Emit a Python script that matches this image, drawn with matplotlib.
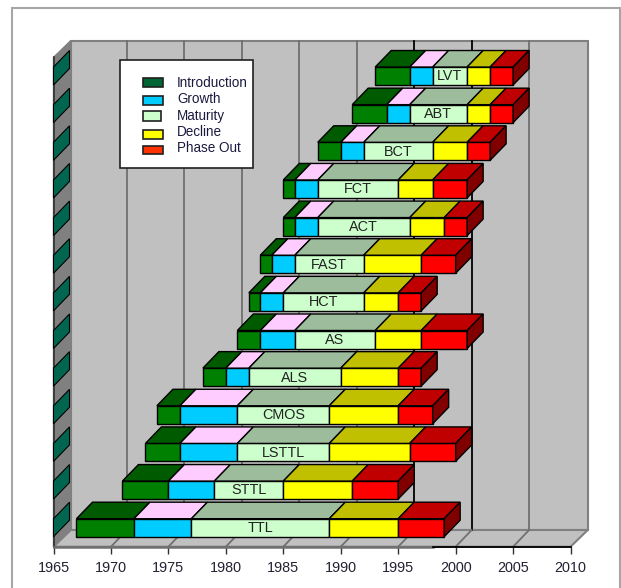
import matplotlib
matplotlib.use("Agg")
import matplotlib.pyplot as plt
from matplotlib.patches import Polygon, Rectangle
from matplotlib.transforms import Affine2D

plt.rcParams['font.family'] = ['Liberation Sans', 'DejaVu Sans']

# bottom row first
families = ["TTL", "STTL", "LSTTL", "CMOS", "ALS", "AS", "HCT", "FAST", "ACT", "FCT", "BCT", "ABT", "LVT"]
start = [1967, 1971, 1973, 1974, 1978, 1981, 1982, 1983, 1985, 1985, 1988, 1991, 1993]
intro_end = [1972, 1975, 1976, 1976, 1980, 1983, 1983, 1984, 1986, 1986, 1990, 1994, 1996]
growth_end = [1977, 1979, 1981, 1981, 1982, 1986, 1985, 1986, 1988, 1988, 1992, 1996, 1998]
maturity_end = [1989, 1985, 1989, 1989, 1990, 1993, 1992, 1992, 1996, 1995, 1998, 2001, 2001]
decline_end = [1995, 1991, 1996, 1995, 1995, 1997, 1995, 1997, 1999, 1998, 2001, 2003, 2003]
phaseout_end = [1999, 1995, 2000, 1998, 1997, 2001, 1997, 2000, 2001, 2001, 2003, 2005, 2005]

phases = ["Introduction", "Growth", "Maturity", "Decline", "Phase Out"]
front_colors = ["#008000", "#00ccff", "#ccffcc", "#ffff00", "#ff0000"]
top_colors = ["#005a00", "#ffccff", "#9cbc9c", "#c0c000", "#c00000"]
side_color = "#800000"
legend_colors = ["#006633", "#00ccff", "#ccffcc", "#ffff00", "#ff3300"]
years = [1965, 1970, 1975, 1980, 1985, 1990, 1995, 2000, 2005, 2010]

W, H = 621, 588
PX_YEAR = 11.49   # px per year
PX_ROW = 37.64    # px per row
X0, Y0 = 53.5, 536.7   # px of 1965 / bottom of the first bar
DX = 16 / PX_YEAR      # oblique depth in data units
DY = 16.5 / PX_ROW
BAR_H = 18 / PX_ROW
FLOOR = -10 / PX_ROW

fig = plt.figure(figsize=(W / 100, H / 100), dpi=100, facecolor="white")
ax = fig.add_axes([0, 0, 1, 1])
ax.set_xlim(1965 - X0 / PX_YEAR, 1965 + (W - X0) / PX_YEAR)
ax.set_ylim((Y0 - H) / PX_ROW, Y0 / PX_ROW)
ax.patch.set_visible(False)

# image pixels, y down, for the frame and legend
pix = Affine2D().scale(1, -1).translate(0, H)


def row(py):
    return (Y0 - py) / PX_ROW


def para(pts, color, z, lw=1.0, ec="black"):
    ax.add_patch(Polygon(pts, closed=True, fc=color, ec=ec, lw=lw, zorder=z, joinstyle="miter"))


# outer frame
ax.add_patch(Rectangle((12, 8), 608, 620, fc="white", ec="#a6a6a6", lw=1.5, transform=pix, zorder=0))

# walls
top = row(40.7)
wall_dx = 17.2 / PX_YEAR
wall_dy = 16.7 / PX_ROW
para([(1965 + wall_dx, FLOOR + wall_dy), (2010 + wall_dx, FLOOR + wall_dy), (2010 + wall_dx, top), (1965 + wall_dx, top)],
     "#c0c0c0", 1, lw=1.5, ec="#808080")
para([(1965, FLOOR), (2010, FLOOR), (2010 + wall_dx, FLOOR + wall_dy), (1965 + wall_dx, FLOOR + wall_dy)],
     "#c0c0c0", 1, lw=1.5, ec="#808080")
para([(1965, FLOOR), (1965 + wall_dx, FLOOR + wall_dy), (1965 + wall_dx, top), (1965, top - wall_dy)],
     "#808080", 1, lw=1.0, ec="#808080")
ax.plot([1965, 1965], [FLOOR, top - wall_dy], color="#303030", lw=1.2, zorder=2)

# grid on back wall and floor
for y in years[1:-1]:
    c = "black" if y in (1995, 2000) else "#707070"
    ax.plot([y + DX, y + DX], [FLOOR + wall_dy, top], color=c, lw=1.3, zorder=2)
    ax.plot([y, y + DX], [FLOOR, FLOOR + wall_dy], color="#707070", lw=1.3, zorder=2)

# stripes on the side wall
for i in range(len(families)):
    para([(1965, i), (1965 + DX, i + DY), (1965 + DX, i + DY + BAR_H), (1965, i + BAR_H)], "#006650", 3, lw=0.8)

# bars, back row first
for i in range(len(families) - 1, -1, -1):
    edges = [start[i], intro_end[i], growth_end[i], maturity_end[i], decline_end[i], phaseout_end[i]]
    z = 10 + (len(families) - i)
    for k in range(5):
        a, b = edges[k], edges[k + 1]
        para([(a, i), (b, i), (b, i + BAR_H), (a, i + BAR_H)], front_colors[k], z)
        para([(a, i + BAR_H), (b, i + BAR_H), (b + DX, i + BAR_H + DY), (a + DX, i + BAR_H + DY)], top_colors[k], z)
    e = edges[-1]
    para([(e, i), (e + DX, i + DY), (e + DX, i + BAR_H + DY), (e, i + BAR_H)], side_color, z)
    ax.text((edges[2] + edges[3]) / 2, i + BAR_H / 2 - 0.01, families[i], ha="center", va="center",
            fontsize=10.4, color="#222222", zorder=z + 0.5)

# x axis
for s in ["left", "right", "top"]:
    ax.spines[s].set_visible(False)
ax.spines["bottom"].set_position(("data", FLOOR))
ax.spines["bottom"].set_bounds(1998, 2010)
ax.spines["bottom"].set_linewidth(1.3)
ax.spines["bottom"].set_zorder(5)
ax.plot([1965, 1998], [FLOOR, FLOOR], color="#707070", lw=1.8, zorder=4)
ax.set_yticks([])
ax.set_xticks(years)
ax.set_xticklabels([str(y) for y in years])
ax.tick_params(axis="x", length=5, width=1.0, color="#303030", pad=5.5, labelsize=10.4, labelcolor="#222233")

# legend
ax.add_patch(Rectangle((120.3, 60), 132.4, 108.3, fc="white", ec="#202020", lw=1.2, transform=pix, zorder=30))
swatch_y = [77.7, 95.7, 110.7, 130, 146]
swatch_h = [9.6, 9.3, 10.6, 9, 8]
swatch_w = [20, 20, 18.3, 20, 20]
text_y = [82.7, 99.3, 115.7, 132, 148.3]
for k in range(5):
    ax.add_patch(Rectangle((142.7, swatch_y[k]), swatch_w[k], swatch_h[k], fc=legend_colors[k], ec="#202020", lw=1.2,
                           transform=pix, zorder=31))
    ax.text(177, text_y[k], phases[k], transform=pix, ha="left", va="center", fontsize=9.75, color="#1a1a40", zorder=31)

fig.savefig("out.png", dpi=100)
